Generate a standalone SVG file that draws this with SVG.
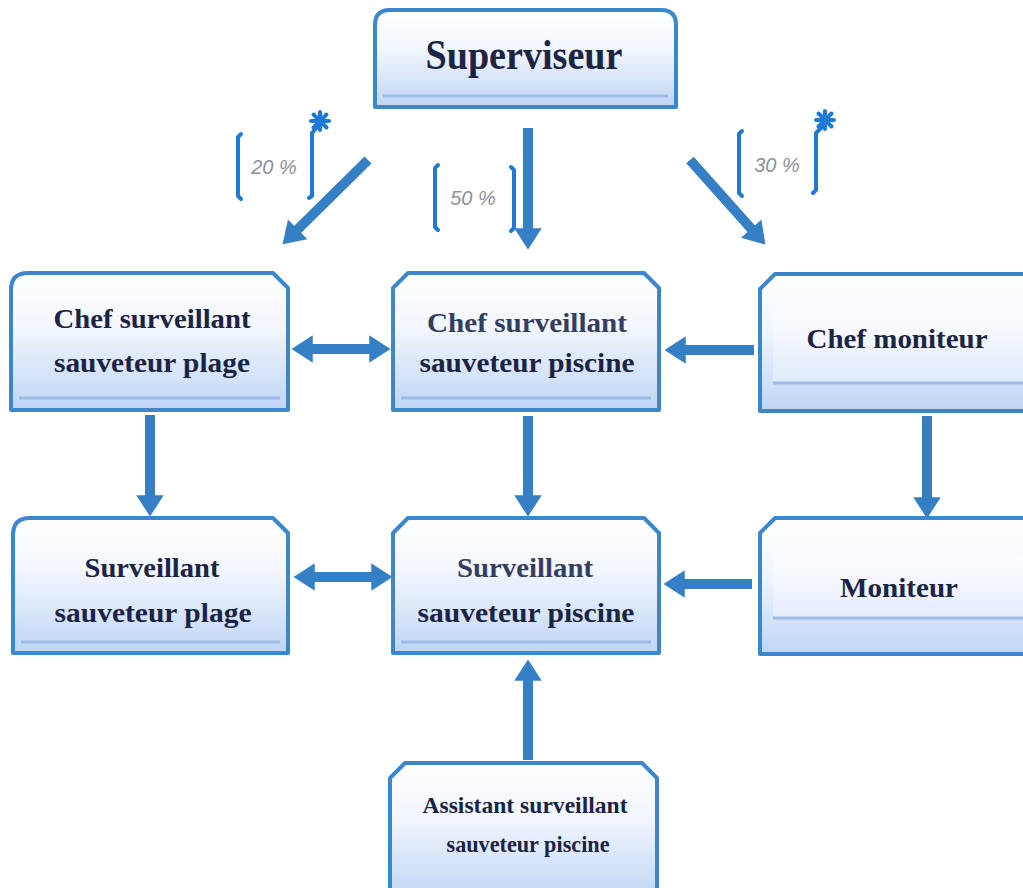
<svg xmlns="http://www.w3.org/2000/svg" width="1023" height="888" viewBox="0 0 1023 888">
<defs>
<linearGradient id="nodeFill" x1="0" y1="0" x2="0" y2="1">
<stop offset="0" stop-color="#ffffff"/>
<stop offset="0.4" stop-color="#f2f6fd"/>
<stop offset="1" stop-color="#bed5f4"/>
</linearGradient>
<marker id="head" markerUnits="userSpaceOnUse" markerWidth="30" markerHeight="30" refX="0" refY="0" orient="auto-start-reverse" viewBox="-4 -12 20 24" overflow="visible">
<path d="M-3,-11 L14,0 L-3,11 Z" fill="#3580c4"/>
</marker>
<style>
.node{fill:url(#nodeFill);stroke:#3a87cd;stroke-width:4;stroke-linejoin:round}
.band{stroke:#9dbbe6;stroke-width:3;fill:none}
.lbl{font-family:"Liberation Serif","Times New Roman",serif;font-weight:bold;fill:#1c2446;text-anchor:middle}
.lblg{fill:#343e5e}
.conn{stroke:#3580c4;stroke-width:10;fill:none;marker-end:url(#head)}
.both{marker-start:url(#head)}
.brk{stroke:#1f7ad6;stroke-width:4;fill:none;stroke-linecap:round;stroke-linejoin:round}
.pct{font-family:"Liberation Sans",Arial,sans-serif;font-style:italic;font-size:20px;fill:#8c9099;text-anchor:middle}
.inner{fill:#ffffff;fill-opacity:0.35;stroke:none}
</style>
</defs>
<rect width="1023" height="888" fill="#ffffff"/>

<g id="connectors">
<path class="conn" d="M368,160 L295,232"/>
<path class="conn" d="M528,128 L528,232"/>
<path class="conn" d="M690,160 L753.7,231.5"/>
<path class="conn both" d="M309,349 L373,349"/>
<path class="conn" d="M754,350 L682,350"/>
<path class="conn both" d="M311,577 L375,577"/>
<path class="conn" d="M752,584 L681,584"/>
<path class="conn" d="M150,415 L150,499"/>
<path class="conn" d="M528,416 L528,499"/>
<path class="conn" d="M927,416 L927,501"/>
<path class="conn" d="M528,760 L528,677"/>
</g>

<g id="share-20">
<path class="brk" d="M241,134 L238,137 L238,196 L241,199"/>
<path class="brk" d="M318,126 L312,133 L312,196 L309,198"/>
<path class="brk" stroke-width="2.5" d="M320,112 L320,130 M311,121 L329,121 M313.5,114.5 L326.5,127.5 M326.5,114.5 L313.5,127.5"/>
<text class="pct" x="274" y="174">20 %</text>
</g>
<g id="share-50">
<path class="brk" d="M438,165 L435,168 L435,227 L438,230"/>
<path class="brk" d="M511,167 L514,170 L514,228 L511,231"/>
<text class="pct" x="473" y="205">50 %</text>
</g>
<g id="share-30">
<path class="brk" d="M742,131 L739,134 L739,193 L742,196"/>
<path class="brk" d="M823,126 L816,133 L816,190 L813,193"/>
<path class="brk" stroke-width="2.5" d="M825,111 L825,129 M816,120 L834,120 M818.5,113.5 L831.5,126.5 M831.5,113.5 L818.5,126.5"/>
<text class="pct" x="777" y="172">30 %</text>
</g>

<g id="superviseur">
<path class="node" d="M375,107 L375,25 Q375,10 390,10 L661,10 Q676,10 676,25 L676,107 Z"/>
<path class="band" d="M383,96 L668,96"/>
<text class="lbl" x="524" y="69" font-size="43" textLength="197" lengthAdjust="spacingAndGlyphs">Superviseur</text>
</g>

<g id="chef-plage">
<path class="node" d="M11,410 L11,290 Q11,273 28,273 L273,273 L288,288 L288,410 Z"/>
<path class="band" d="M19,398 L280,398"/>
<text class="lbl" x="152" y="328" font-size="28" textLength="197" lengthAdjust="spacingAndGlyphs">Chef surveillant</text>
<text class="lbl" x="152" y="372" font-size="28" textLength="196" lengthAdjust="spacingAndGlyphs">sauveteur plage</text>
</g>

<g id="chef-piscine">
<path class="node" d="M393,410 L393,288 L408,273 L644,273 L659,288 L659,410 Z"/>
<path class="band" d="M401,398 L651,398"/>
<text class="lbl lblg" x="527" y="332" font-size="28" textLength="200" lengthAdjust="spacingAndGlyphs">Chef surveillant</text>
<text class="lbl" x="527" y="372" font-size="28" textLength="215" lengthAdjust="spacingAndGlyphs">sauveteur piscine</text>
</g>

<g id="chef-moniteur">
<path class="node" d="M760,411 L760,289 L775,274 L1035,274 L1035,411 Z"/>
<rect class="inner" x="773" y="310" width="262" height="73"/>
<path class="band" d="M773,383 L1023,383"/>
<text class="lbl" x="897" y="348" font-size="28" textLength="181" lengthAdjust="spacingAndGlyphs">Chef moniteur</text>
</g>

<g id="surveillant-plage">
<path class="node" d="M13,653 L13,535 Q13,518 30,518 L273,518 L288,533 L288,653 Z"/>
<path class="band" d="M21,642 L280,642"/>
<text class="lbl" x="152" y="577" font-size="28" textLength="135" lengthAdjust="spacingAndGlyphs">Surveillant</text>
<text class="lbl" x="153" y="622" font-size="28" textLength="197" lengthAdjust="spacingAndGlyphs">sauveteur plage</text>
</g>

<g id="surveillant-piscine">
<path class="node" d="M393,653 L393,533 L408,518 L644,518 L659,533 L659,653 Z"/>
<path class="band" d="M401,642 L651,642"/>
<text class="lbl lblg" x="525" y="577" font-size="28" textLength="136" lengthAdjust="spacingAndGlyphs">Surveillant</text>
<text class="lbl" x="526" y="622" font-size="28" textLength="217" lengthAdjust="spacingAndGlyphs">sauveteur piscine</text>
</g>

<g id="moniteur">
<path class="node" d="M760,654 L760,533 L775,518 L1035,518 L1035,654 Z"/>
<rect class="inner" x="773" y="555" width="262" height="63"/>
<path class="band" d="M773,618 L1023,618"/>
<text class="lbl" x="899" y="597" font-size="28" textLength="118" lengthAdjust="spacingAndGlyphs">Moniteur</text>
</g>

<g id="assistant">
<path class="node" d="M390,900 L390,778 L405,763 L642,763 L657,778 L657,900 Z"/>
<text class="lbl" x="525" y="813" font-size="23" textLength="205" lengthAdjust="spacingAndGlyphs">Assistant surveillant</text>
<text class="lbl" x="528" y="852" font-size="23" textLength="163" lengthAdjust="spacingAndGlyphs">sauveteur piscine</text>
</g>
</svg>
